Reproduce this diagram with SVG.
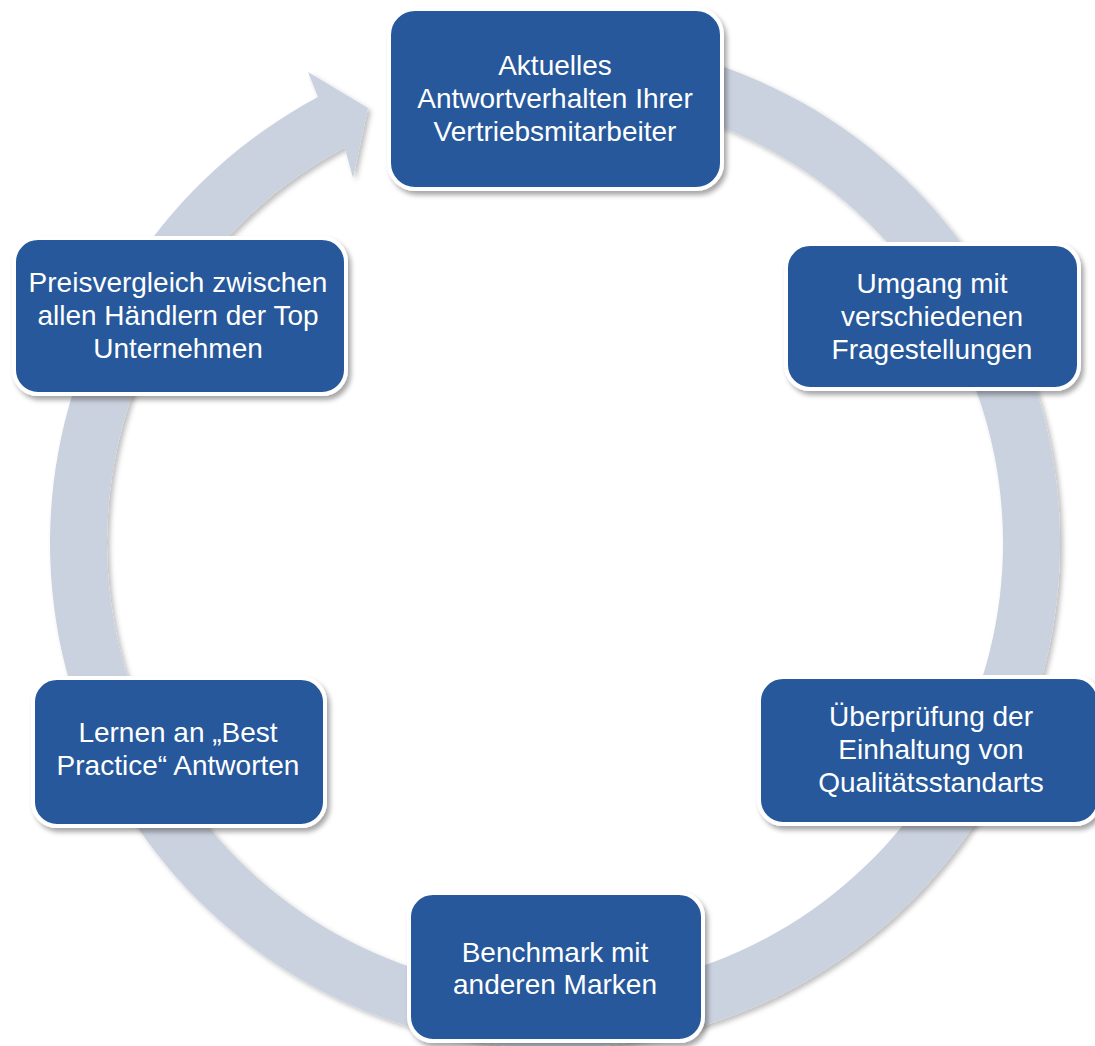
<svg xmlns="http://www.w3.org/2000/svg" width="1095" height="1046" viewBox="0 0 1095 1046">
  <defs>
    <filter id="shadow" x="-10%" y="-10%" width="125%" height="130%">
      <feDropShadow dx="3" dy="4" stdDeviation="2.5" flood-color="#000000" flood-opacity="0.35"/>
    </filter>
    <filter id="ringShadow" x="-5%" y="-5%" width="112%" height="112%">
      <feDropShadow dx="3" dy="3" stdDeviation="2.5" flood-color="#000000" flood-opacity="0.25"/>
    </filter>
  </defs>
  <style>
    .box { fill: #27589B; stroke: #FFFFFF; stroke-width: 4; filter: url(#shadow); }
    .lbl { fill: #FFFFFF; font-family: "Liberation Sans", Arial, sans-serif; font-size: 28px; text-anchor: middle; }
    .ring { fill: #CBD2DF; filter: url(#ringShadow); }
  </style>
  <rect width="1095" height="1046" fill="#FFFFFF"/>
  <g id="connectors">
    <path class="ring" d="M 467.31,45.67 A 505 505 0 1 1 317.92,97.11 L 308,72 L 368,108 L 353,178 L 344.68,147.44 A 448 448 0 1 0 477.20,101.81 Z"/>
  </g>
  <g id="node-aktuelles">
    <rect class="box" x="389" y="9" width="333" height="180" rx="26"/>
    <text class="lbl" x="555" y="75">Aktuelles</text>
    <text class="lbl" x="555" y="108">Antwortverhalten Ihrer</text>
    <text class="lbl" x="555" y="141">Vertriebsmitarbeiter</text>
  </g>
  <g id="node-umgang">
    <rect class="box" x="786" y="244" width="293" height="145" rx="24"/>
    <text class="lbl" x="932" y="293">Umgang mit</text>
    <text class="lbl" x="932" y="326">verschiedenen</text>
    <text class="lbl" x="932" y="359">Fragestellungen</text>
  </g>
  <g id="node-ueberpruefung">
    <rect class="box" x="759" y="677" width="340" height="147" rx="24"/>
    <text class="lbl" x="931" y="726">Überprüfung der</text>
    <text class="lbl" x="931" y="759">Einhaltung von</text>
    <text class="lbl" x="931" y="792">Qualitätsstandarts</text>
  </g>
  <g id="node-benchmark">
    <rect class="box" x="409" y="893" width="294" height="148" rx="24"/>
    <text class="lbl" x="555" y="962">Benchmark mit</text>
    <text class="lbl" x="555" y="994">anderen Marken</text>
  </g>
  <g id="node-lernen">
    <rect class="box" x="33" y="678" width="292" height="148" rx="24"/>
    <text class="lbl" x="178" y="742">Lernen an „Best</text>
    <text class="lbl" x="178" y="775">Practice“ Antworten</text>
  </g>
  <g id="node-preisvergleich">
    <rect class="box" x="14" y="238" width="332" height="156" rx="24"/>
    <text class="lbl" x="178" y="292">Preisvergleich zwischen</text>
    <text class="lbl" x="178" y="325">allen Händlern der Top</text>
    <text class="lbl" x="178" y="358">Unternehmen</text>
  </g>
</svg>
